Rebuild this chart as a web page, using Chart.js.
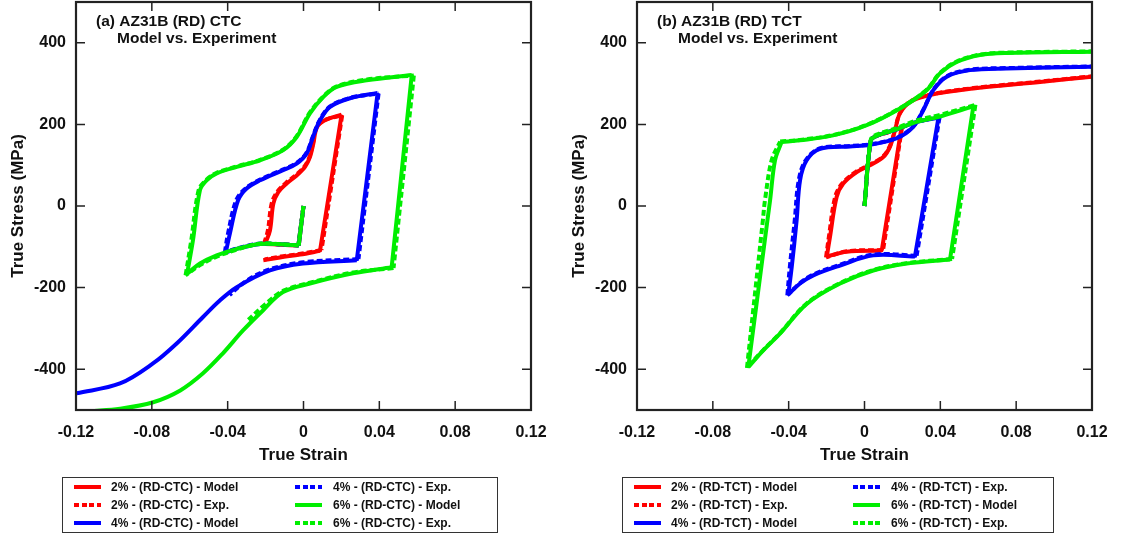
<!DOCTYPE html>
<html>
<head>
<meta charset="utf-8">
<script src="https://cdn.jsdelivr.net/npm/chart.js@4.4.1/dist/chart.umd.min.js"></script>
<style>
body{margin:0;background:#fff;font-family:"Liberation Sans",Arial,sans-serif;}
#wrap{position:relative;width:1124px;height:538px;overflow:hidden;}
.panel{position:absolute;top:0;width:562px;height:538px;}
.legend{position:absolute;top:477px;height:56px;border:1.5px solid #333;box-sizing:border-box;font-weight:bold;font-size:12px;color:#111;}
.item{position:absolute;height:16px;line-height:16px;white-space:nowrap;}
.swatch{position:absolute;width:27px;height:4px;}
</style>
</head>
<body>
<div id="wrap">
  <div class="panel" style="left:0"><canvas id="ctc" width="562" height="538"></canvas></div>
  <div class="panel" style="left:561px"><canvas id="tct" width="562" height="538"></canvas></div>
  <div class="legend" id="legCtc" style="left:62px;width:436px"></div>
  <div class="legend" id="legTct" style="left:622px;width:432px"></div>
</div>
<script>
// axis ticks
var xTickValues = [-0.12, -0.08, -0.04, 0, 0.04, 0.08, 0.12];
var xTickLabels = ['-0.12', '-0.08', '-0.04', '0', '0.04', '0.08', '0.12'];
var yTickValues = [-400, -200, 0, 200, 400];
var yTickLabels = ['-400', '-200', '0', '200', '400'];

// (a) CTC - model
var ctc2ModelStrain = [0, -0.0025, -0.012, -0.0203, -0.0177, -0.0159, -0.0133, -0.0089, -0.0036, 0.0008, 0.0034, 0.0052, 0.0071, 0.0113, 0.0201, 0.0087, -0.0018, -0.0124, -0.0212];
var ctc2ModelStress = [0, -97, -95, -93, -60, 6, 34, 55, 75, 96, 120, 153, 193, 210, 224, -110, -119, -126, -133];
var ctc4ModelStrain = [0, -0.0025, -0.012, -0.0228, -0.0352, -0.041, -0.0388, -0.0345, -0.03, -0.0229, -0.0108, -0.0036, 0.0017, 0.005, 0.0087, 0.014, 0.0245, 0.0391, 0.0281, -0.0003, -0.0177, -0.0352, -0.044, -0.053, -0.0669, -0.0794, -0.0968, -0.1196];
var ctc4ModelStress = [0, -97, -94, -93, -105, -114, -67, 14, 43, 63, 88, 104, 129, 169, 210, 243, 264, 277, -133, -141, -158, -199, -231, -272, -337, -386, -435, -459];
var ctc6ModelStrain = [0, -0.0025, -0.012, -0.0228, -0.0352, -0.0458, -0.0546, -0.0614, -0.0583, -0.0546, -0.0511, -0.0458, -0.0352, -0.0229, -0.0107, -0.0036, 0.0034, 0.0104, 0.0175, 0.0333, 0.0571, 0.0465, 0.0261, 0.0034, -0.0108, -0.0214, -0.0319, -0.0425, -0.053, -0.065, -0.0793, -0.0968, -0.1126];
var ctc6ModelStress = [0, -97, -94, -93, -105, -121, -141, -166, -84, 39, 63, 80, 96, 112, 137, 169, 227, 267, 292, 308, 321, -150, -165, -190, -211, -256, -305, -361, -410, -452, -481, -497, -503];

// (a) CTC - experiment
var ctc2ExpStrain = [0, -0.0027, -0.012, -0.0208, -0.0188, -0.0168, -0.014, -0.0094, -0.004, 0.0005, 0.0032, 0.005, 0.007, 0.0113, 0.0204, 0.0095, -0.0015, -0.012, -0.0205];
var ctc2ExpStress = [0, -96, -94, -92, -60, 6, 34, 56, 76, 97, 121, 154, 194, 211, 222, -108, -117, -124, -131];
var ctc4ExpStrain = [0, -0.0027, -0.012, -0.0228, -0.0352, -0.0415, -0.0398, -0.0355, -0.0306, -0.0232, -0.011, -0.0038, 0.0015, 0.0049, 0.0086, 0.014, 0.0246, 0.0396, 0.029, 0, -0.0177, -0.03, -0.039];
var ctc4ExpStress = [0, -96, -94, -92, -104, -114, -67, 14, 43, 64, 89, 105, 130, 170, 211, 244, 265, 276, -130, -138, -155, -183, -218];
var ctc6ExpStrain = [0, -0.0027, -0.012, -0.0228, -0.0352, -0.0458, -0.0546, -0.0622, -0.0592, -0.0553, -0.0515, -0.046, -0.0352, -0.0229, -0.0108, -0.0038, 0.0032, 0.0103, 0.0175, 0.0335, 0.0582, 0.0475, 0.0262, 0.0034, -0.0108, -0.02, -0.0291];
var ctc6ExpStress = [0, -96, -94, -92, -107, -124, -145, -170, -84, 39, 63, 81, 97, 113, 138, 170, 228, 268, 293, 310, 320, -152, -163, -188, -208, -240, -279];

// (b) TCT - model
var tct2ModelStrain = [0, 0.0033, 0.0064, 0.012, 0.0195, 0.0091, -0.0094, -0.0199, -0.0182, -0.0147, -0.0112, -0.0041, 0.0029, 0.0099, 0.0134, 0.0161, 0.0187, 0.024, 0.0345, 0.0574, 0.0926, 0.12];
var tct2ModelStress = [0, 160, 172, 180, 192, -109, -112, -124, -76, 22, 55, 83, 100, 120, 145, 186, 227, 255, 272, 288, 304, 317];
var tct4ModelStrain = [0, 0.0033, 0.0064, 0.017, 0.0275, 0.039, 0.0266, 0.0046, -0.0129, -0.027, -0.034, -0.0402, -0.0384, -0.0358, -0.034, -0.0305, -0.0235, -0.0077, 0.0029, 0.017, 0.0257, 0.031, 0.0363, 0.0434, 0.0556, 0.075, 0.12];
var tct4ModelStress = [0, 160, 172, 188, 206, 216, -124, -121, -146, -170, -190, -217, -150, -35, 63, 112, 140, 146, 150, 166, 194, 235, 284, 317, 333, 337, 341];
var tct6ModelStrain = [0, 0.0033, 0.0064, 0.017, 0.0275, 0.0388, 0.0574, 0.0451, 0.0223, 0.0046, -0.0129, -0.0305, -0.0446, -0.0534, -0.0613, -0.0512, -0.0498, -0.0472, -0.0437, -0.034, -0.0166, 0.0012, 0.0187, 0.0328, 0.0398, 0.0486, 0.0609, 0.075, 0.12];
var tct6ModelStress = [0, 160, 172, 188, 206, 218, 244, -131, -141, -158, -190, -240, -313, -354, -395, -35, 14, 112, 157, 161, 173, 198, 239, 284, 325, 353, 370, 375, 378];

// (b) TCT - experiment
var tct2ExpStrain = [0, 0.0033, 0.0064, 0.012, 0.0198, 0.0098, -0.0094, -0.0203, -0.0188, -0.0155, -0.0118, -0.0044, 0.0027, 0.0097, 0.0133, 0.0161, 0.0187, 0.024, 0.0345, 0.0574, 0.0926, 0.12];
var tct2ExpStress = [0, 160, 172, 180, 193, -108, -111, -126, -76, 22, 55, 84, 101, 121, 146, 187, 228, 256, 273, 289, 305, 318];
var tct4ExpStrain = [0, 0.0033, 0.0064, 0.017, 0.0275, 0.0396, 0.0275, 0.0046, -0.0129, -0.027, -0.034, -0.0407, -0.0394, -0.0368, -0.0347, -0.031, -0.0237, -0.0077, 0.0029, 0.017, 0.0257, 0.031, 0.0363, 0.0434, 0.0556, 0.075, 0.12];
var tct4ExpStress = [0, 160, 172, 188, 206, 218, -122, -119, -144, -168, -189, -219, -150, -35, 63, 112, 141, 147, 151, 167, 195, 236, 285, 318, 334, 338, 342];
var tct6ExpStrain = [0, 0.0033, 0.0064, 0.017, 0.0275, 0.0388, 0.0585, 0.0462, 0.0223, 0.0046, -0.0129, -0.0305, -0.0446, -0.0534, -0.062, -0.0536, -0.0525, -0.049, -0.0445, -0.034, -0.0166, 0.0012, 0.0187, 0.0328, 0.0398, 0.0486, 0.0609, 0.075, 0.12];
var tct6ExpStress = [0, 163, 175, 191, 210, 222, 248, -130, -140, -157, -189, -239, -312, -353, -397, -35, 14, 112, 158, 162, 174, 199, 240, 285, 326, 354, 371, 376, 379];

var RED = '#ff0000', BLUE = '#0000ff', GREEN = '#00ee00';

Chart.defaults.font.family = '"Liberation Sans", Arial, sans-serif';
Chart.defaults.color = '#111';

// split a curve where it turns sharply (load reversals, elastic/plastic corners)
// so each piece can be smoothed without rounding the corners
function pieces(xs, ys) {
    var cuts = [0];
    for (var i = 1; i < xs.length - 1; i++) {
        var ax = (xs[i] - xs[i - 1]) * 1896, ay = (ys[i] - ys[i - 1]) * 0.4075;
        var bx = (xs[i + 1] - xs[i]) * 1896, by = (ys[i + 1] - ys[i]) * 0.4075;
        var c = (ax * bx + ay * by) / (Math.hypot(ax, ay) * Math.hypot(bx, by));
        if (c < Math.cos(Math.PI / 4)) cuts.push(i);
    }
    cuts.push(xs.length - 1);
    var out = [];
    for (var k = 0; k < cuts.length - 1; k++) {
        var d = [];
        for (var j = cuts[k]; j <= cuts[k + 1]; j++) d.push({x: xs[j], y: ys[j]});
        out.push(d);
    }
    return out;
}

function curve(label, xs, ys, color, dashed) {
    return {label: label, xs: xs, ys: ys, color: color, dashed: dashed};
}

function toDatasets(curves) {
    var sets = [];
    curves.forEach(function (c) {
        pieces(c.xs, c.ys).forEach(function (d) {
            sets.push({
                label: c.label,
                data: d,
                showLine: true,
                borderColor: c.color,
                backgroundColor: c.color,
                borderWidth: 4,
                borderDash: c.dashed ? [6, 3] : [],
                borderJoinStyle: 'round',
                pointRadius: 0,
                tension: 0.35,
                fill: false
            });
        });
    });
    return sets;
}

// frame with inward ticks on all sides + panel title
var framePlugin = {
    id: 'frame',
    afterDraw: function (chart, args, opts) {
        var ctx = chart.ctx, a = chart.chartArea, x = chart.scales.x, y = chart.scales.y;
        ctx.save();
        ctx.strokeStyle = '#222';
        ctx.lineWidth = 1.5;
        ctx.beginPath();
        xTickValues.forEach(function (v) {
            var px = x.getPixelForValue(v);
            ctx.moveTo(px, a.bottom); ctx.lineTo(px, a.bottom - 9);
            ctx.moveTo(px, a.top); ctx.lineTo(px, a.top + 9);
        });
        yTickValues.forEach(function (v) {
            var py = y.getPixelForValue(v);
            ctx.moveTo(a.left, py); ctx.lineTo(a.left + 9, py);
            ctx.moveTo(a.right, py); ctx.lineTo(a.right - 9, py);
        });
        ctx.stroke();
        ctx.lineWidth = 2.2;
        ctx.strokeRect(a.left, a.top, a.right - a.left, a.bottom - a.top);
        ctx.fillStyle = '#111';
        ctx.font = 'bold 15.5px "Liberation Sans", Arial, sans-serif';
        ctx.textBaseline = 'middle';
        ctx.fillText(opts.lines[0], a.left + 20, a.top + 20);
        ctx.fillText(opts.lines[1], a.left + 41, a.top + 37);
        ctx.restore();
    }
};

function makeChart(id, sets, lines) {
    return new Chart(document.getElementById(id).getContext('2d'), {
        type: 'scatter',
        data: {datasets: sets},
        plugins: [framePlugin],
        options: {
            responsive: false,
            animation: false,
            layout: {autoPadding: false, padding: {left: 0, right: 31, top: 2, bottom: 68}},
            plugins: {
                legend: {display: false},
                tooltip: {enabled: false},
                frame: {lines: lines}
            },
            scales: {
                x: {
                    type: 'linear',
                    min: -0.12,
                    max: 0.12,
                    afterBuildTicks: function (s) { s.ticks = xTickValues.map(function (v) { return {value: v}; }); },
                    afterFit: function (s) { s.height = 60; s.paddingLeft = 0; s.paddingRight = 0; },
                    grid: {display: false, drawTicks: false},
                    border: {display: false},
                    ticks: {
                        padding: 13,
                        maxRotation: 0,
                        autoSkip: false,
                        font: {size: 16, weight: 'bold'},
                        callback: function (v, i) { return xTickLabels[i]; }
                    },
                    title: {display: true, text: 'True Strain', font: {size: 17, weight: 'bold'}, padding: {top: 0, bottom: 4}}
                },
                y: {
                    type: 'linear',
                    min: -500,
                    max: 500,
                    afterBuildTicks: function (s) { s.ticks = yTickValues.map(function (v) { return {value: v}; }); },
                    afterFit: function (s) { s.width = 76; s.paddingTop = 0; s.paddingBottom = 0; },
                    grid: {display: false, drawTicks: false},
                    border: {display: false},
                    ticks: {
                        padding: 10,
                        autoSkip: false,
                        font: {size: 16, weight: 'bold'},
                        callback: function (v, i) { return yTickLabels[i]; }
                    },
                    title: {display: true, text: 'True Stress (MPa)', font: {size: 17, weight: 'bold'}, padding: {top: 8, bottom: 0}}
                }
            }
        }
    });
}

// listed top-drawn first: green over blue over red, exp dashes over model
var ctcCurves = [
    curve('6% - (RD-CTC) - Exp.', ctc6ExpStrain, ctc6ExpStress, GREEN, true),
    curve('6% - (RD-CTC) - Model', ctc6ModelStrain, ctc6ModelStress, GREEN, false),
    curve('4% - (RD-CTC) - Exp.', ctc4ExpStrain, ctc4ExpStress, BLUE, true),
    curve('4% - (RD-CTC) - Model', ctc4ModelStrain, ctc4ModelStress, BLUE, false),
    curve('2% - (RD-CTC) - Exp.', ctc2ExpStrain, ctc2ExpStress, RED, true),
    curve('2% - (RD-CTC) - Model', ctc2ModelStrain, ctc2ModelStress, RED, false)
];
var tctCurves = [
    curve('6% - (RD-TCT) - Exp.', tct6ExpStrain, tct6ExpStress, GREEN, true),
    curve('6% - (RD-TCT) - Model', tct6ModelStrain, tct6ModelStress, GREEN, false),
    curve('4% - (RD-TCT) - Exp.', tct4ExpStrain, tct4ExpStress, BLUE, true),
    curve('4% - (RD-TCT) - Model', tct4ModelStrain, tct4ModelStress, BLUE, false),
    curve('2% - (RD-TCT) - Exp.', tct2ExpStrain, tct2ExpStress, RED, true),
    curve('2% - (RD-TCT) - Model', tct2ModelStrain, tct2ModelStress, RED, false)
];

makeChart('ctc', toDatasets(ctcCurves), ['(a) AZ31B (RD) CTC', 'Model vs. Experiment']);
makeChart('tct', toDatasets(tctCurves), ['(b) AZ31B (RD) TCT', 'Model vs. Experiment']);

// boxed two-column legend, same order as the original
function buildLegend(elId, curves, col2Swatch, col2Text) {
    var el = document.getElementById(elId);
    var order = [5, 4, 3, 2, 1, 0];
    var rows = [10, 28, 46];
    order.forEach(function (ci, k) {
        var c = curves[ci];
        var col = k < 3 ? 0 : 1, row = k % 3;
        var sw = document.createElement('div');
        sw.className = 'swatch';
        sw.style.left = (col ? col2Swatch : 11) + 'px';
        sw.style.top = (rows[row] - 3) + 'px';
        sw.style.background = c.dashed
            ? 'repeating-linear-gradient(to right,' + c.color + ' 0 5px,transparent 5px 7.5px)'
            : c.color;
        el.appendChild(sw);
        var t = document.createElement('div');
        t.className = 'item';
        t.style.left = (col ? col2Text : 48) + 'px';
        t.style.top = (rows[row] - 9) + 'px';
        t.textContent = c.label;
        el.appendChild(t);
    });
}
buildLegend('legCtc', ctcCurves, 232, 270);
buildLegend('legTct', tctCurves, 230, 268);
</script>
</body>
</html>
